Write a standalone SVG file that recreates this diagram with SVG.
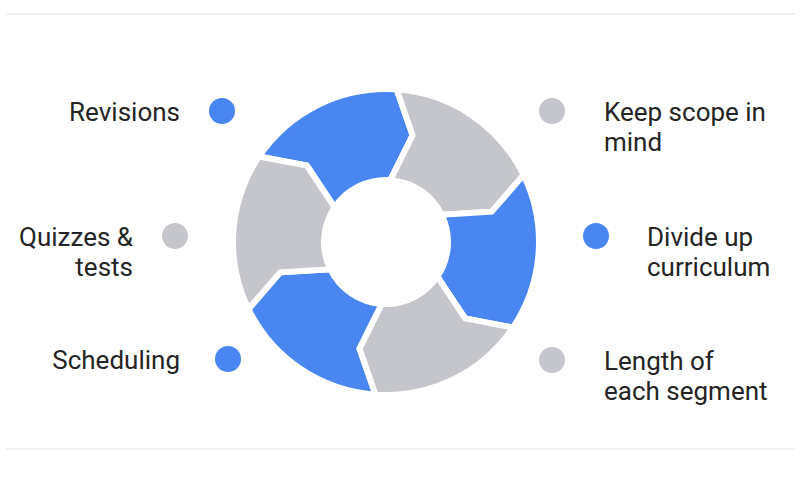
<svg xmlns="http://www.w3.org/2000/svg" xmlns:xlink="http://www.w3.org/1999/xlink" width="800" height="500" viewBox="0 0 800 500">
  <style>
    .blue { fill: #4a86f2; }
    .gray { fill: #c5c6cb; }
    .seg { stroke: #ffffff; stroke-width: 6; stroke-linejoin: miter; }
    .label { font-family: Roboto, "Liberation Sans", sans-serif; font-size: 26px; fill: #242424; }
    .end { text-anchor: end; }
    .rule { stroke: #ededed; stroke-width: 1.5; }
  </style>
  <defs>
    <!-- one 60-degree chevron segment of the ring, centred on the origin -->
    <path id="segment" d="M153,0 A153,153 0 0 1 76.5,132.5 L37.62,103.37 L31,53.69 A62,62 0 0 0 62,0 L108.33,19.10 Z"/>
  </defs>

  <rect width="800" height="500" fill="#ffffff"/>
  <line class="rule" x1="6" y1="14" x2="795" y2="14"/>
  <line class="rule" x1="6" y1="449" x2="795" y2="449"/>

  <!-- cycle ring -->
  <g id="ring" transform="translate(386,242)">
    <use xlink:href="#segment" class="seg blue" transform="rotate(-146)"/>
    <use xlink:href="#segment" class="seg gray" transform="rotate(-86)"/>
    <use xlink:href="#segment" class="seg blue" transform="rotate(-26)"/>
    <use xlink:href="#segment" class="seg gray" transform="rotate(34)"/>
    <use xlink:href="#segment" class="seg blue" transform="rotate(94)"/>
    <use xlink:href="#segment" class="seg gray" transform="rotate(154)"/>
  </g>

  <!-- left items -->
  <g id="revisions">
    <circle class="blue" cx="222" cy="111" r="13"/>
    <text class="label end" x="180" y="121">Revisions</text>
  </g>
  <g id="quizzes">
    <circle class="gray" cx="175" cy="236" r="13"/>
    <text class="label end" x="133" y="246">Quizzes &amp;</text>
    <text class="label end" x="133" y="276">tests</text>
  </g>
  <g id="scheduling">
    <circle class="blue" cx="228" cy="359" r="13"/>
    <text class="label end" x="180" y="369">Scheduling</text>
  </g>

  <!-- right items -->
  <g id="scope">
    <circle class="gray" cx="552" cy="111" r="13"/>
    <text class="label" x="604" y="121">Keep scope in</text>
    <text class="label" x="604" y="151">mind</text>
  </g>
  <g id="divide">
    <circle class="blue" cx="596" cy="236" r="13"/>
    <text class="label" x="647" y="246">Divide up</text>
    <text class="label" x="647" y="276">curriculum</text>
  </g>
  <g id="length">
    <circle class="gray" cx="552" cy="360" r="13"/>
    <text class="label" x="604" y="370">Length of</text>
    <text class="label" x="604" y="400">each segment</text>
  </g>
</svg>
